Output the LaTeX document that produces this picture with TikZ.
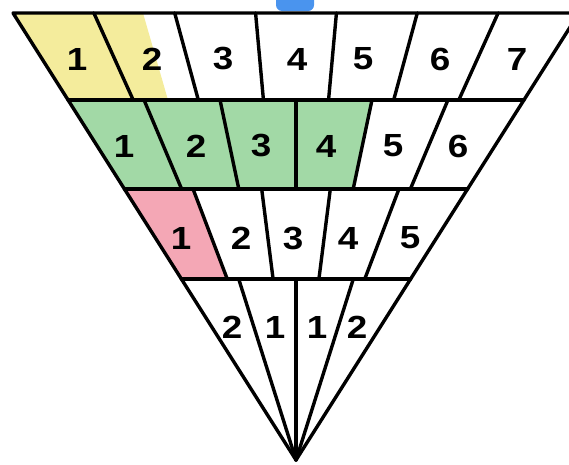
\documentclass[tikz,border=0pt]{standalone}
\usepackage{fontspec}
\setmainfont{Liberation Sans}[FakeStretch=1.15]
\begin{document}
\begin{tikzpicture}[x=1pt,y=-1pt,
  edge/.style={line width=3.4pt,line join=round,line cap=round},
  lbl/.style={font=\fontsize{32}{32}\selectfont\bfseries,inner sep=0pt}]
\useasboundingbox (0,0) rectangle (569,464);
\clip (0,0) rectangle (569,464);
\definecolor{cyel}{HTML}{F4EC9C}
\definecolor{cgrn}{HTML}{A2D9A6}
\definecolor{cpnk}{HTML}{F4A7B5}
\definecolor{cblu}{HTML}{4A94EE}
% blue tab at top
\fill[cblu,rounded corners=6pt] (276,-8) rectangle (314,11);
% coloured cells
\fill[cyel] (13,13) -- (93.9,13) -- (133.2,100) -- (68.1,100) -- cycle;
\fill[cyel] (93.9,13) -- (143,13) -- (168,100) -- (133.2,100) -- cycle;
\fill[cgrn] (68.1,100) -- (372,100) -- (353.2,189) -- (124.4,189) -- cycle;
\fill[cpnk] (124.4,189) -- (193.0,189) -- (227.2,279) -- (181.4,279) -- cycle;
% outer triangle and row lines
\coordinate (apex) at (296,460);
\draw[edge] (13,13) -- (579,13) -- (apex) -- cycle;
\foreach \yy in {100,189,279}{
  \pgfmathsetmacro{\hw}{0.63311*(460-\yy)}
  \draw[edge] ({296-\hw},\yy) -- ({296+\hw},\yy);
}
% dividers (rays towards the apex)
\foreach \yt/\yb/\n/\m in {13/100/7/6, 100/189/6/5, 189/279/5/4, 279/460/4/3}{
  \foreach \k in {1,...,\m}{
    \pgfmathsetmacro{\xt}{296+0.63311*(460-\yt)*(2*\k/\n-1)}
    \pgfmathsetmacro{\xb}{296+0.63311*(460-\yb)*(2*\k/\n-1)}
    \draw[edge] (\xt,\yt) -- (\xb,\yb);
  }
}
% labels
\foreach \x/\t [count=\i] in {77/1,152/2,223/3,297/4,363/5,440/6,517/7}
  \node[lbl] (ra\i) at (\x,59) {\t};
\foreach \x/\t [count=\i] in {124/1,196/2,261/3,326/4,393/5,458/6}
  \node[lbl] (rb\i) at (\x,146) {\t};
\foreach \x/\t [count=\i] in {181/1,241/2,293/3,348/4,410/5}
  \node[lbl] (rc\i) at (\x,238) {\t};
\foreach \x/\t [count=\i] in {232/2,275/1,317/1,357/2}
  \node[lbl] (rd\i) at (\x,327) {\t};
\end{tikzpicture}
\end{document}
